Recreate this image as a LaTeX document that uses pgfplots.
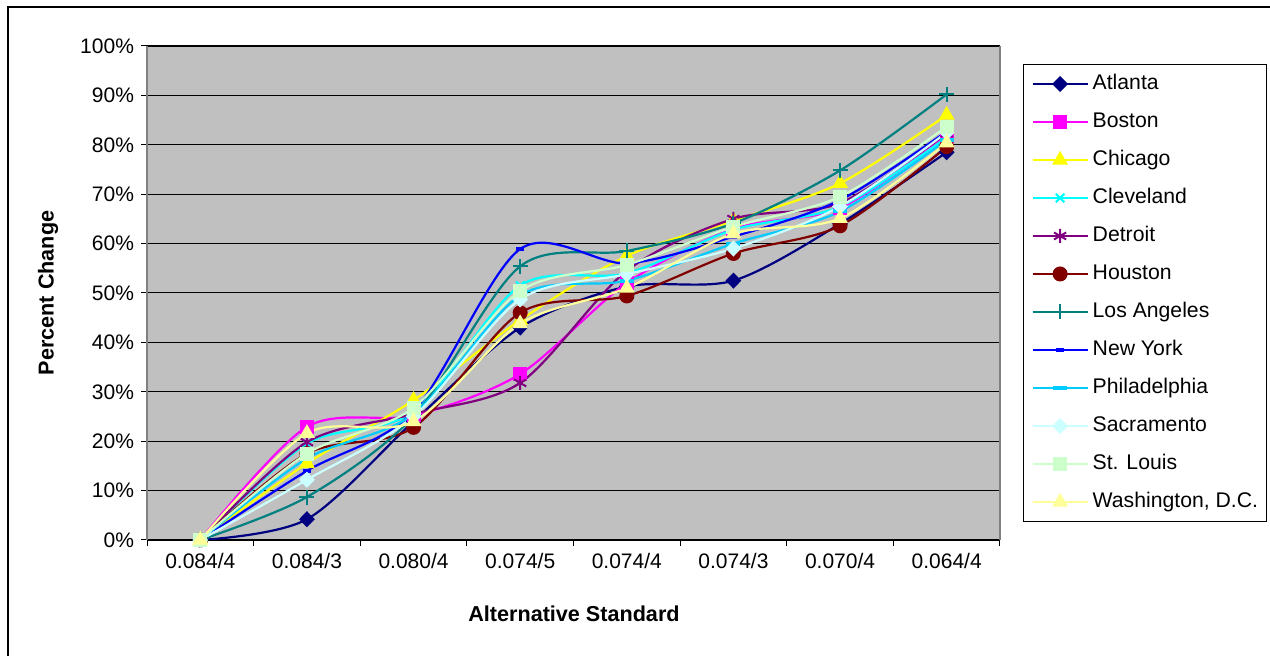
\documentclass[border=0pt]{standalone}
\usepackage{pgfplots}
\pgfplotsset{compat=1.18}
\usepackage{fontspec}
\setmainfont{Liberation Sans}

\definecolor{cAtl}{HTML}{000080}
\definecolor{cBos}{HTML}{FF00FF}
\definecolor{cChi}{HTML}{FFFF00}
\definecolor{cCle}{HTML}{00FFFF}
\definecolor{cDet}{HTML}{800080}
\definecolor{cHou}{HTML}{800000}
\definecolor{cLA}{HTML}{008080}
\definecolor{cNY}{HTML}{0000FF}
\definecolor{cPhi}{HTML}{00CCFF}
\definecolor{cSac}{HTML}{CCFFFF}
\definecolor{cStL}{HTML}{CCFFCC}
\definecolor{cDC}{HTML}{FFFF99}
\definecolor{cPlot}{HTML}{C0C0C0}
\definecolor{cFrame}{HTML}{808080}

\pgfplotsset{
  city/.style n args={3}{color=#1, line width=1.1pt, smooth, tension=0.5,
    mark=#2, mark size=#3, mark options={solid, fill=#1, draw=#1, line width=1pt}},
}

\begin{document}
\begin{tikzpicture}
\useasboundingbox (0,0) rectangle (635pt,328pt);
\clip (0,0) rectangle (635pt,328pt);
\fill[white] (0,0) rectangle (635pt,328pt);
% chart area border
\draw[black, line width=0.75pt] (4pt,-20pt) rectangle (700pt,324.5pt);
\begin{axis}[
  at={(73.5pt,58pt)}, anchor=south west,
  scale only axis, width=426.5pt, height=247pt,
  xmin=-0.5, xmax=7.5, ymin=0, ymax=100,
  xtick={-0.5,0.5,...,7.5}, x tick label as interval,
  xticklabels={0.084/4,0.084/3,0.080/4,0.074/5,0.074/4,0.074/3,0.070/4,0.064/4},
  ytick={0,10,...,100},
  xtick pos=bottom, ytick pos=left,
  yticklabel={\pgfmathprintnumber{\tick}\%},
  /pgf/number format/assume math mode=true,
  ticklabel style={font=\fontsize{10.5}{12}\selectfont},
  tick align=outside, major tick length=3pt,
  tick style={black, line width=0.5pt},
  ymajorgrids, grid style={black, line width=0.5pt},
  axis background/.style={fill=cPlot},
  separate axis lines,
  every outer x axis line/.append style={black, line width=0.75pt},
  every outer y axis line/.append style={cFrame, line width=0.75pt},
  xlabel={\bfseries Alternative Standard},
  ylabel={\bfseries Percent Change},
  label style={font=\fontsize{10.8}{12}\selectfont},
  xlabel style={at={(axis description cs:0.5006,-0.1498)}, anchor=center},
  ylabel style={at={(axis description cs:-0.116,0.5)}, anchor=center, rotate=0},
  legend cell align=left,
  legend style={at={(axis description cs:1.027,0.9636)}, anchor=north west,
    draw=black, line width=0.5pt, fill=white,
    font=\fontsize{10.6}{12}\selectfont,
    inner xsep=4pt, inner ysep=4.5pt, row sep=8.5pt,
    nodes={inner sep=0pt, text height=8pt, text depth=2.5pt},
    /tikz/every odd column/.append style={column sep=2pt}},
  legend image code/.code={\draw[mark repeat=2, mark phase=2, #1]
    plot coordinates {(0pt,0pt) (13.75pt,0pt) (27.5pt,0pt)};},
]
\addplot[city={cAtl}{diamond*}{3.25pt}, mark options={xscale=1.3}] coordinates
  {(0,0) (1,4.2) (2,24) (3,43) (4,51.3) (5,52.5) (6,64) (7,78.5)};
\addlegendentry{Atlanta}
\addplot[city={cBos}{square*}{3pt}] coordinates
  {(0,0) (1,22.9) (2,25.2) (3,33.6) (4,52) (5,63) (6,67.2) (7,81.8)};
\addlegendentry{Boston}
\addplot[city={cChi}{triangle*}{3.6pt}] coordinates
  {(0,0) (1,15.5) (2,28.3) (3,44.5) (4,57.5) (5,64.6) (6,72.2) (7,86)};
\addlegendentry{Chicago}
\addplot[city={cCle}{x}{3pt}] coordinates
  {(0,0) (1,19.5) (2,26) (3,51.5) (4,54) (5,62.8) (6,67.5) (7,81.5)};
\addlegendentry{Cleveland}
\addplot[city={cDet}{asterisk}{3.5pt}] coordinates
  {(0,0) (1,19.8) (2,25.5) (3,31.8) (4,54.5) (5,65) (6,68.2) (7,82.3)};
\addlegendentry{Detroit}
\addplot[city={cHou}{*}{3.25pt}] coordinates
  {(0,0) (1,17.5) (2,22.8) (3,46) (4,49.4) (5,58) (6,63.6) (7,79.6)};
\addlegendentry{Houston}
\addplot[city={cLA}{+}{3.75pt}] coordinates
  {(0,0) (1,8.7) (2,25) (3,55.4) (4,58.5) (5,64.1) (6,74.8) (7,90.2)};
\addlegendentry{Los Angeles}
\addplot[city={cNY}{-}{2pt}, mark options={line width=2pt}] coordinates
  {(0,0) (1,14) (2,26) (3,58.9) (4,56) (5,61.4) (6,68.8) (7,82.7)};
\addlegendentry{New York}
\addplot[city={cPhi}{-}{3.5pt}, mark options={line width=2pt}] coordinates
  {(0,0) (1,16.5) (2,25.5) (3,49.5) (4,52.5) (5,60) (6,66.5) (7,81)};
\addlegendentry{Philadelphia}
\addplot[city={cSac}{diamond*}{3.25pt}, mark options={xscale=1.3}] coordinates
  {(0,0) (1,12.2) (2,25) (3,48.7) (4,53.8) (5,59) (6,67.5) (7,82.5)};
\addlegendentry{Sacramento}
\addplot[city={cStL}{square*}{3pt}] coordinates
  {(0,0) (1,17.5) (2,26.8) (3,50.4) (4,55.7) (5,63.4) (6,69.5) (7,83.7)};
\addlegendentry{St. Louis}
\addplot[city={cDC}{triangle*}{3.6pt}] coordinates
  {(0,0) (1,21.6) (2,24) (3,43.8) (4,51) (5,62) (6,65.1) (7,80.4)};
\addlegendentry{Washington, D.C.}
\end{axis}
\end{tikzpicture}
\end{document}
